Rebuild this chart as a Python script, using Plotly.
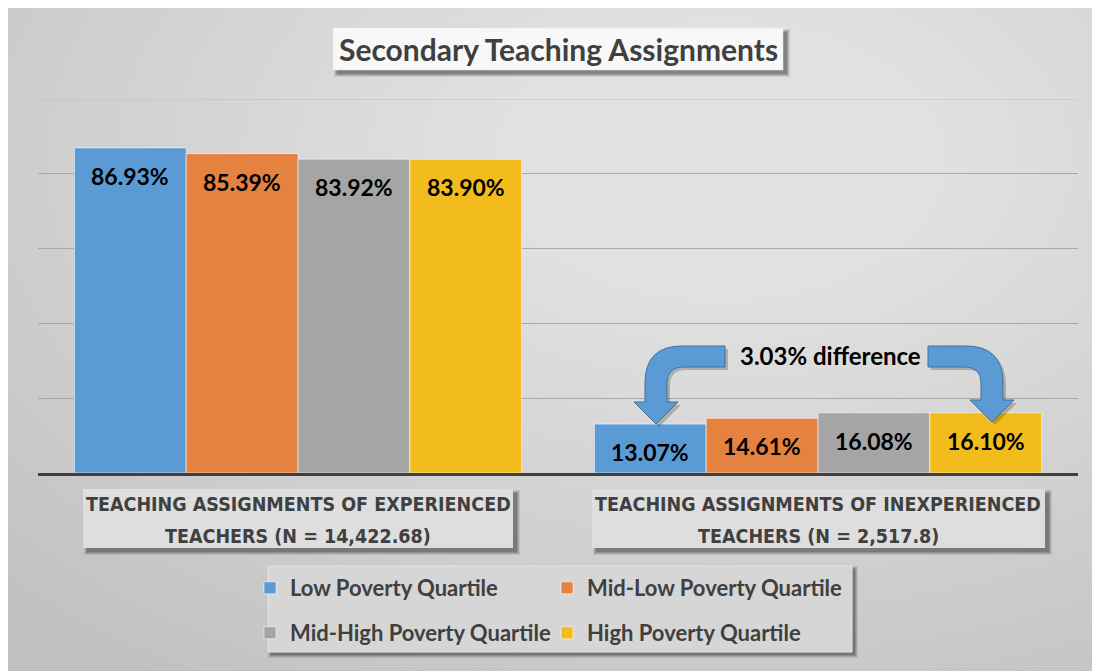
import plotly.graph_objects as go

# ---------------- data ----------------
categories = ["Experienced", "Inexperienced"]
category_label_lines = [
    ["TEACHING ASSIGNMENTS OF EXPERIENCED", "TEACHERS (N = 14,422.68)"],
    ["TEACHING ASSIGNMENTS OF INEXPERIENCED", "TEACHERS (N = 2,517.8)"],
]
series_names = ["Low Poverty Quartile", "Mid-Low Poverty Quartile",
                "Mid-High Poverty Quartile", "High Poverty Quartile"]
low_poverty = [86.93, 13.07]
mid_low_poverty = [85.39, 14.61]
mid_high_poverty = [83.92, 16.08]
high_poverty = [83.90, 16.10]
series_values = [low_poverty, mid_low_poverty, mid_high_poverty, high_poverty]
title_text = "Secondary Teaching Assignments"
difference_text = "3.03% difference"

# ---------------- styles ----------------
colors = ["#5b9bd5", "#e5823f", "#a5a5a5", "#f2bd1c"]
W, H = 1100, 671
OFF = 8  # page body margin (screen px -> figure px)
ML, MR, MT, MB = 30, 30, 91, 206
PW, PH = W - ML - MR, H - MT - MB
BARGAP = 0.14
NSER = len(series_names)
BW = (1 - BARGAP) / NSER
FONT = "Lato, 'Open Sans', sans-serif"
COND = "'Liberation Sans Narrow', 'DejaVu Sans Condensed', 'Arial Narrow', sans-serif"
TXT = "#404040"


def px(x):
    return (x - OFF - ML) / PW


def py(y):
    return (H - MB - (y - OFF)) / PH


shapes = []


def rect(x0, y0, x1, y1, fill, line="rgba(0,0,0,0)", lw=0, layer="above"):
    shapes.append(dict(type="rect", xref="paper", yref="paper",
                       x0=px(x0), x1=px(x1), y0=py(y1), y1=py(y0),
                       fillcolor=fill, line=dict(color=line, width=lw), layer=layer))


def shadow(x0, y0, x1, y1, dx=4, dy=4):
    for k, a in [(3, 0.10), (2, 0.14), (1, 0.18), (0, 0.22)]:
        rect(x0 + dx - k, y0 + dy - k, x1 + dx + k, y1 + dy + k, f"rgba(40,40,40,{a})")


# radial-ish gradient over the grey paper
N_ELL = 40
for k in range(N_ELL):
    f = 1 - k / N_ELL
    cx, cy, rx, ry = 720, 160, 1000 * f, 620 * f
    shapes.append(dict(type="circle", xref="paper", yref="paper",
                       x0=px(cx - rx), x1=px(cx + rx), y0=py(cy + ry), y1=py(cy - ry),
                       fillcolor="rgba(255,255,255,0.03)", line=dict(width=0), layer="below"))

# top (100%) gridline, lighter
shapes.append(dict(type="line", xref="paper", yref="y", x0=0, x1=1, y0=100, y1=100,
                   line=dict(color="#bdbdbd", width=1), layer="below"))

# title box
shadow(333, 28, 783, 70)
rect(333, 28, 783, 70, "#f8f8f8", line="#e6e6e6", lw=0.5)

# category label boxes
shadow(83, 489, 513, 548)
rect(83, 489, 513, 548, "#dedede")
shadow(592, 489, 1045, 548)
rect(592, 489, 1045, 548, "#dedede")

# legend box
shadow(268, 566, 852, 652, dx=3, dy=3)
rect(268, 566, 852, 652, "#d6d6d6", line="#e2e2e2", lw=1)


# bent arrows
def path_from(points):
    out = []
    for cmd, pts in points:
        if cmd == "Z":
            out.append("Z")
        else:
            out.append(cmd + " ".join(f"{px(a):.5f},{py(b):.5f}" for a, b in pts))
    return " ".join(out)


def left_arrow(ox=0, oy=0):
    P = lambda a, b: (a + ox, b + oy)
    return path_from([
        ("M", [P(725, 346)]), ("L", [P(682, 346)]),
        ("Q", [P(645, 346), P(645, 383)]),
        ("L", [P(645, 402)]), ("L", [P(634, 402)]), ("L", [P(656, 424)]),
        ("L", [P(678, 402)]), ("L", [P(667, 402)]), ("L", [P(667, 383)]),
        ("Q", [P(667, 367), P(683, 367)]),
        ("L", [P(725, 367)]), ("Z", None)])


def right_arrow(ox=0, oy=0):
    P = lambda a, b: (a + ox, b + oy)
    return path_from([
        ("M", [P(928, 346)]), ("L", [P(966, 346)]),
        ("Q", [P(1003, 346), P(1003, 383)]),
        ("L", [P(1003, 400)]), ("L", [P(1014, 400)]), ("L", [P(992, 422)]),
        ("L", [P(970, 400)]), ("L", [P(981, 400)]), ("L", [P(981, 383)]),
        ("Q", [P(981, 367), P(965, 367)]),
        ("L", [P(928, 367)]), ("Z", None)])


for fn in (left_arrow, right_arrow):
    shapes.append(dict(type="path", xref="paper", yref="paper", path=fn(3, 3),
                       fillcolor="rgba(40,40,40,0.25)", line=dict(width=0), layer="above"))
    shapes.append(dict(type="path", xref="paper", yref="paper", path=fn(),
                       fillcolor="#5b9bd5", line=dict(color="#41719c", width=1), layer="above"))

# ---------------- figure ----------------
fig = go.Figure()
for i, (name, vals) in enumerate(zip(series_names, series_values)):
    fig.add_trace(go.Bar(
        x=categories, y=vals, name=name,
        marker=dict(color=colors[i], line=dict(color="rgba(255,255,255,0.55)", width=1)),
        legend="legend" if i < 2 else "legend2",
        hoverinfo="skip",
    ))

annotations = []
# data labels
for i, vals in enumerate(series_values):
    for j, v in enumerate(vals):
        annotations.append(dict(
            x=j + (i - (NSER - 1) / 2) * BW, y=v, xref="x", yref="y",
            text=f"{v:.2f}%", showarrow=False, xanchor="center", yanchor="middle", yshift=-28,
            font=dict(family=FONT, size=23, color="#000000", weight=700)))
# category labels (two lines each)
for j, lines in enumerate(category_label_lines):
    for k, (line, yy) in enumerate(zip(lines, [505, 536])):
        annotations.append(dict(
            x=j, y=py(yy), xref="x", yref="paper", text=line, showarrow=False,
            xanchor="center", yanchor="middle",
            font=dict(family=COND, size=19.5, color=TXT, weight=700)))
# title
annotations.append(dict(x=px(558), y=py(49), xref="paper", yref="paper",
                        text=title_text, showarrow=False, xanchor="center", yanchor="middle",
                        font=dict(family=FONT, size=30, color=TXT, weight=700)))
# difference label
annotations.append(dict(x=px(830), y=py(355), xref="paper", yref="paper",
                        text=difference_text, showarrow=False, xanchor="center", yanchor="middle",
                        font=dict(family=FONT, size=24, color="#000000", weight=700)))

legend_font = dict(family=FONT, size=22, color=TXT, weight=700)
fig.update_layout(
    width=W, height=H,
    margin=dict(l=ML, r=MR, t=MT, b=MB, pad=0),
    paper_bgcolor="#c0c0c0", plot_bgcolor="rgba(0,0,0,0)",
    barmode="group", bargap=BARGAP, bargroupgap=0,
    showlegend=True,
    legend=dict(orientation="h", x=px(250), xanchor="left", y=py(588), yanchor="middle",
                entrywidth=252, entrywidthmode="pixels", font=legend_font,
                bgcolor="rgba(0,0,0,0)", borderwidth=0, itemclick=False, traceorder="normal"),
    legend2=dict(orientation="h", x=px(250), xanchor="left", y=py(633), yanchor="middle",
                 entrywidth=252, entrywidthmode="pixels", font=legend_font,
                 bgcolor="rgba(0,0,0,0)", borderwidth=0, itemclick=False, traceorder="normal"),
    xaxis=dict(showticklabels=False, showgrid=False, zeroline=False,
               showline=True, linecolor="#404040", linewidth=3, ticks=""),
    yaxis=dict(range=[0, 100], dtick=20, showticklabels=False, showgrid=True,
               gridcolor="#a9a9a9", gridwidth=1, zeroline=False, showline=False),
    shapes=shapes,
    annotations=annotations,
)

fig.write_html("out.html")
